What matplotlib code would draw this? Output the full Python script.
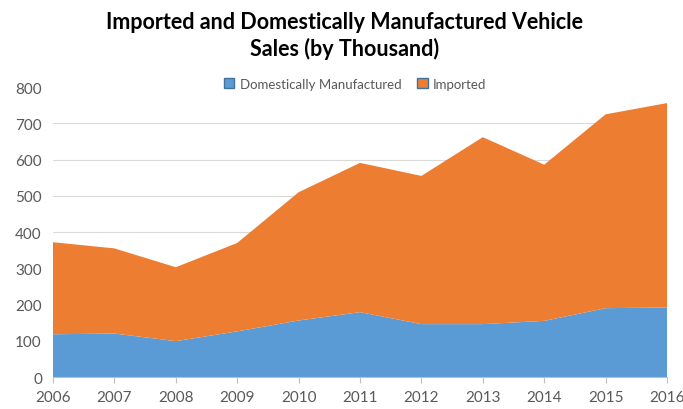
import matplotlib.pyplot as plt
from matplotlib.patches import Patch

years = [2006, 2007, 2008, 2009, 2010, 2011, 2012, 2013, 2014, 2015, 2016]
domestic = [118, 120, 99, 126, 156, 179, 146, 146, 155, 190, 192]
imported = [254, 235, 204, 244, 354, 412, 409, 516, 431, 535, 564]

plt.rcParams['font.family'] = ['Lato', 'DejaVu Sans']

fig = plt.figure(figsize=(6.83, 4.10), dpi=100)
ax = fig.add_axes([0.0776, 0.078, 0.899, 0.707])

ax.stackplot(years, domestic, imported, colors=['#5B9BD5', '#ED7D31'],
             linewidth=0, zorder=2)

ax.set_xlim(2006, 2016)
ax.set_ylim(0, 800)
ax.set_xticks(years)
ax.set_yticks(range(0, 801, 100))
for v in range(100, 800, 100):
    ax.axhline(v, color='#D9D9D9', linewidth=0.8, zorder=1)

for s in ['top', 'right', 'left']:
    ax.spines[s].set_visible(False)
ax.spines['bottom'].set_color('#BFBFBF')
ax.spines['bottom'].set_zorder(3)
ax.tick_params(axis='y', length=0, labelsize=11, colors='#595959', pad=8)
ax.tick_params(axis='x', length=4, color='#BFBFBF', labelsize=11,
               labelcolor='#595959', pad=5)

fig.suptitle('Imported and Domestically Manufactured Vehicle\nSales (by Thousand)',
             x=0.505, y=0.97, fontsize=15.5, fontweight='bold', linespacing=1.25)

handles = [Patch(facecolor='#5B9BD5', edgecolor='#41719C', label='Domestically Manufactured'),
           Patch(facecolor='#ED7D31', edgecolor='#41719C', label='Imported')]
fig.legend(handles=handles, loc='center', bbox_to_anchor=(0.52, 0.793), ncol=2,
           frameon=False, fontsize=9.5, labelcolor='#595959', handlelength=0.8,
           handleheight=0.8, handletextpad=0.4, columnspacing=1.2)

fig.savefig('out.png', dpi=100)
